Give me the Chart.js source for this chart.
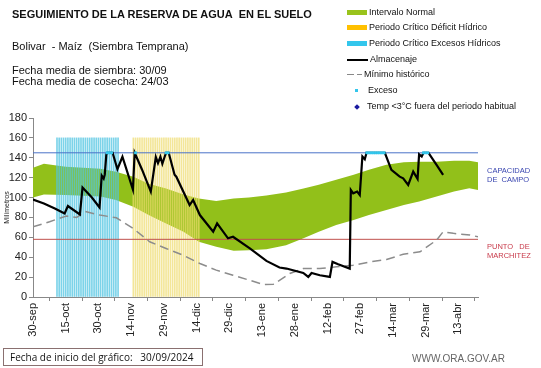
<!DOCTYPE html>
<html lang="es">
<head>
<meta charset="UTF-8">
<title>Seguimiento de la reserva de agua en el suelo</title>
<script src="https://cdn.jsdelivr.net/npm/chart.js"></script>
<style>
  body { margin: 0; background: #fff; }
  #wrap { position: relative; width: 541px; height: 368px; font-family: "Liberation Sans", Arial, sans-serif; color: #111; }
  #wrap canvas { position: absolute; left: 0; top: 0; }
  .t { position: absolute; white-space: nowrap; }
  #title { left: 12px; top: 8px; font-size: 11px; font-weight: bold; }
  #sub { left: 12px; top: 40px; font-size: 11px; }
  #f1 { left: 12px; top: 65px; font-size: 11px; line-height: 11px; }
  .leg { position: absolute; left: 347px; font-size: 9px; white-space: nowrap; height: 10px; line-height: 10px; }
  .leg span.sw { display: inline-block; vertical-align: middle; margin-right: 2px; }
  .side { position: absolute; left: 487px; font-size: 7.5px; line-height: 9px; }
  #foot { position: absolute; left: 3px; top: 348px; width: 200px; height: 18px; border: 1px solid #8a7070; font-family: "Open Sans", sans-serif; font-size: 10px; line-height: 16px; padding-left: 6px; box-sizing: border-box; white-space: nowrap; }
  #web { left: 412px; top: 353px; font-size: 10px; color: #666; }
</style>
</head>
<body>
<div id="wrap">
  <canvas id="chart" width="541" height="368"></canvas>
  <div class="t" id="title">SEGUIMIENTO DE LA RESERVA DE AGUA&nbsp; EN EL SUELO</div>
  <div class="t" id="sub">Bolivar&nbsp; - Maíz&nbsp; (Siembra Temprana)</div>
  <div class="t" id="f1">Fecha media de siembra: 30/09<br>Fecha media de cosecha: 24/03</div>

  <div class="leg" style="top:7px"><span class="sw" style="width:20px;height:5px;background:#99c31c"></span>Intervalo Normal</div>
  <div class="leg" style="top:22px"><span class="sw" style="width:20px;height:5px;background:#ffc000"></span>Periodo Crítico Déficit Hídrico</div>
  <div class="leg" style="top:38px"><span class="sw" style="width:20px;height:5px;background:#33c6ec"></span>Periodo Crítico Excesos Hídricos</div>
  <div class="leg" style="top:54px"><span class="sw" style="width:21px;height:2px;background:#000"></span>Almacenaje</div>
  <div class="leg" style="top:69px"><span class="sw" style="width:7px;height:1.5px;background:#888;margin-right:3px"></span><span class="sw" style="width:5px;height:1.5px;background:#888;margin-right:2px"></span>Mínimo histórico</div>
  <div class="leg" style="top:85px;left:355px"><span class="sw" style="width:3px;height:3px;background:#33c6ec;margin-right:10px"></span>Exceso</div>
  <div class="leg" style="top:101px;left:355px"><span class="sw" style="width:4px;height:4px;background:#1a1aa0;transform:rotate(45deg);margin-right:8px"></span>Temp &lt;3°C fuera del periodo habitual</div>

  <div class="side" style="top:166px;color:#3a46b0">CAPACIDAD<br>DE&nbsp; CAMPO</div>
  <div class="side" style="top:242px;color:#c83a4a">PUNTO&nbsp;&nbsp; DE<br>MARCHITEZ</div>

  <div id="foot">Fecha de inicio del gráfico:&nbsp;&nbsp; 30/09/2024</div>
  <div class="t" id="web">WWW.ORA.GOV.AR</div>
</div>
<script>
// days counted from 30-sep
const tickDays = [0, 15, 30, 45, 60, 75, 90, 105, 120, 135, 150, 165, 180, 195];
const tickLabels = ['30-sep', '15-oct', '30-oct', '14-nov', '29-nov', '14-dic', '29-dic', '13-ene', '28-ene', '12-feb', '27-feb', '14-mar', '29-mar', '13-abr'];

// normal interval (green band)
const bandDays  = [0, 5, 15, 31, 38, 46, 53, 61, 69, 76, 84, 92, 99, 107, 116, 124, 131, 139, 147, 154, 162, 170, 177, 185, 193, 200, 204];
const bandUpper = [130, 134, 131, 129, 126, 121, 114, 109, 103, 99, 96.5, 99, 100, 102, 105, 109, 113, 118, 123, 128, 133, 135.5, 136, 136, 137, 137, 135.5];
const bandLower = [100, 103, 102.6, 101, 97.6, 90.8, 82.4, 74, 65.6, 55.5, 50.5, 46.4, 47, 48, 52, 59, 65.6, 72.4, 77.4, 82.4, 87.5, 92.5, 96, 101, 106, 109.4, 107.7];

// historic minimum
const minDays = [0, 7.6, 15.3, 20, 24, 30.6, 38.2, 45.9, 53.5, 61, 68.8, 76.5, 84, 91.7, 99.4, 105.6, 110.2, 113, 117.7, 123.9, 131.5, 139.2, 146.8, 154.5, 162.1, 169.7, 177.4, 185, 188, 192.7, 200.3, 204];
const minVals = [70.6, 75.7, 81.4, 80, 86, 82.4, 79.7, 69, 55.5, 48.8, 42, 33.7, 27, 21.9, 16.8, 12.5, 12.8, 16.8, 23.6, 28.6, 28.6, 30.3, 32, 35.3, 37.7, 43, 45.4, 57.2, 65.6, 64, 62.3, 60.6];

// soil water storage
const storeDays = [0, 5, 10, 14.5, 16, 21.5, 22.7, 27, 30.5, 31.5, 32.4, 32.9, 33.6, 34, 36.5, 38.7, 41, 45.8, 46.6, 50, 54, 56.3, 57.3, 58.4, 59.3, 60.4, 61, 62.2, 64.9, 65.7, 71.8, 73.4, 76.5, 82.6, 84.4, 89.4, 91.7, 99.4, 107, 113, 116.2, 123.9, 126.2, 127.7, 131.5, 136.1, 137.3, 139.9, 145.2, 145.7, 146.8, 148.6, 149.8, 151, 152.1, 152.9, 161.3, 164.3, 168.1, 169.7, 172, 174.3, 176.3, 177, 178.2, 179, 181.3, 185, 188];
const storeVals = [98, 94, 89, 84, 91.5, 83, 110, 100, 90, 122, 119, 123, 143, 145, 145, 128.5, 141, 108, 145, 128, 106, 140.7, 134.6, 141, 134, 141.3, 145, 145, 123, 121, 92.5, 97.6, 82.4, 65.6, 74, 59, 60.6, 48.8, 36.3, 29.7, 28.6, 24.2, 20.2, 24.2, 21.9, 20.2, 35.3, 32.9, 28.6, 107.7, 104.3, 106, 102.6, 141.3, 138.6, 145, 145, 127.8, 121, 119.4, 112.7, 126.1, 118.8, 143.5, 141.3, 145, 145, 132.9, 122.8];

// excess days (storage at field capacity)
const excesoDays = [34, 35, 36, 47, 61, 62, 153, 154, 155, 156, 157, 158, 159, 160, 161, 179, 180, 181];

// critical periods
const excessPeriod = [11, 39];
const deficitPeriod = [46, 76];
const periodTop = 160;

const fieldCapacity = 145;
const wiltingPoint = 58;
const xMax = 204;

const pts = (xs, ys) => xs.map((x, i) => ({ x: x, y: ys[i] }));
const stripes = (p) => {
  const out = [];
  for (let d = p[0]; d <= p[1]; d++) out.push({ x: d, y: periodTop });
  return out;
};

new Chart(document.getElementById('chart'), {
  data: {
    datasets: [
      { type: 'line', data: pts(bandDays, bandUpper), borderWidth: 0, pointRadius: 0, fill: '+1', backgroundColor: '#92c01a', order: 6 },
      { type: 'line', data: pts(bandDays, bandLower), borderWidth: 0, pointRadius: 0, fill: false, order: 6 },
      { type: 'bar', data: stripes(excessPeriod), backgroundColor: 'rgba(80,196,226,0.75)', barThickness: 1, grouped: false, order: 5 },
      { type: 'bar', data: stripes(deficitPeriod), backgroundColor: 'rgba(238,220,110,0.7)', barThickness: 1, grouped: false, order: 5 },
      { type: 'line', data: pts([0, xMax], [fieldCapacity, fieldCapacity]), borderColor: '#4a72c8', borderWidth: 1, pointRadius: 0, order: 4 },
      { type: 'line', data: pts([0, xMax], [wiltingPoint, wiltingPoint]), borderColor: '#c0504d', borderWidth: 1, pointRadius: 0, order: 4 },
      { type: 'line', data: pts(minDays, minVals), borderColor: '#8c8c8c', borderWidth: 1.5, borderDash: [9, 5], pointRadius: 0, order: 3 },
      { type: 'line', data: pts(storeDays, storeVals), borderColor: '#000', borderWidth: 2.2, pointRadius: 0, order: 2 },
      { type: 'scatter', data: excesoDays.map(d => ({ x: d, y: fieldCapacity })), pointStyle: 'rect', pointRadius: 2, backgroundColor: '#33c6ec', borderWidth: 0, order: 1 }
    ]
  },
  options: {
    responsive: false,
    animation: false,
    layout: { padding: { left: 3, top: 118, right: 63, bottom: 0 } },
    plugins: { legend: { display: false }, tooltip: { enabled: false } },
    scales: {
      x: {
        type: 'linear', min: 0, max: xMax, offset: false,
        afterFit: s => { s.height = 71; },
        afterBuildTicks: s => { s.ticks = tickDays.map(v => ({ value: v })); },
        ticks: {
          minRotation: 90, maxRotation: 90, autoSkip: false, padding: 2,
          color: '#222', font: { family: 'Liberation Sans', size: 11 },
          callback: v => tickLabels[tickDays.indexOf(v)]
        },
        grid: { drawOnChartArea: false, tickLength: 4, color: '#888' },
        border: { color: '#888' }
      },
      y: {
        min: 0, max: 180,
        afterFit: s => { s.width = 30; },
        ticks: { stepSize: 20, padding: 2, color: '#222', font: { family: 'Liberation Sans', size: 11 } },
        title: { display: true, text: 'Milímetros', color: '#222', padding: 0, font: { family: 'Liberation Sans', size: 7 } },
        grid: { drawOnChartArea: false, tickLength: 4, color: '#888' },
        border: { color: '#888' }
      }
    }
  }
});
</script>
</body>
</html>
